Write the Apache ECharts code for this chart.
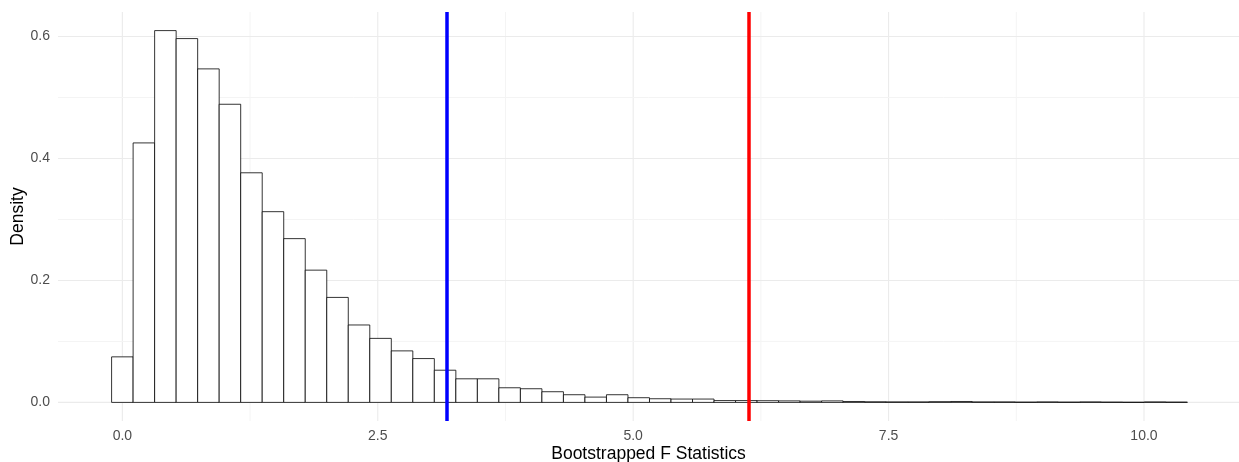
<!DOCTYPE html>
<html>
<head>
<meta charset="utf-8">
<script src="https://cdn.jsdelivr.net/npm/echarts@6/dist/echarts.min.js"></script>
<style>
html,body{margin:0;padding:0;background:#fff;}
#chart{width:1239px;height:462px;}
</style>
</head>
<body>
<div id="chart"></div>
<script>
// Histogram bin centers (Bootstrapped F statistic)
const binCenters = [0.0000, 0.2106, 0.4212, 0.6318, 0.8424, 1.0530, 1.2636, 1.4742, 1.6848, 1.8954,
  2.1060, 2.3166, 2.5272, 2.7378, 2.9484, 3.1590, 3.3696, 3.5802, 3.7908, 4.0014,
  4.2120, 4.4226, 4.6332, 4.8438, 5.0544, 5.2650, 5.4756, 5.6862, 5.8968, 6.1074,
  6.3180, 6.5286, 6.7392, 6.9498, 7.1604, 7.3710, 7.5816, 7.7922, 8.0028, 8.2134,
  8.4240, 8.6346, 8.8452, 9.0558, 9.2664, 9.4770, 9.6876, 9.8982, 10.1088, 10.3194];
const binWidth = 0.2106;
// Densities
const densities = [0.0747, 0.4256, 0.6098, 0.5967, 0.5470, 0.4890, 0.3766, 0.3128, 0.2686, 0.2169,
  0.1722, 0.1270, 0.1050, 0.0845, 0.0719, 0.0528, 0.0387, 0.0387, 0.0240, 0.0224,
  0.0175, 0.0126, 0.0087, 0.0126, 0.0077, 0.0060, 0.0055, 0.0055, 0.0030, 0.0030,
  0.0028, 0.0025, 0.0020, 0.0025, 0.0015, 0.0010, 0.0008, 0.0008, 0.0012, 0.0015,
  0.0008, 0.0008, 0.0005, 0.0008, 0.0005, 0.0008, 0.0005, 0.0003, 0.0008, 0.0005];
// Reference lines
const blueLine = 3.183;
const redLine = 6.128;
// Ticks / grid
const xMajor = [0, 2.5, 5, 7.5, 10];
const xMinor = [1.25, 3.75, 6.25, 8.75];
const yMajor = [0, 0.2, 0.4, 0.6];
const yMinor = [0.1, 0.3, 0.5];

const FONT = '"Liberation Sans", Arial, sans-serif';

const chart = echarts.init(document.getElementById('chart'), null, {renderer: 'canvas'});

function vGrid(params, api) {
  const cs = params.coordSys;
  const x = api.coord([api.value(0), 0])[0];
  const major = api.value(1) === 1;
  return {
    type: 'line',
    shape: {x1: x, y1: cs.y, x2: x, y2: cs.y + cs.height},
    style: {stroke: major ? '#EBEBEB' : '#F4F4F4', lineWidth: major ? 1.1 : 1}
  };
}
function hGrid(params, api) {
  const cs = params.coordSys;
  const y = api.coord([0, api.value(1)])[1];
  const major = api.value(0) === 1;
  return {
    type: 'line',
    shape: {x1: cs.x, y1: y, x2: cs.x + cs.width, y2: y},
    style: {stroke: major ? '#EBEBEB' : '#F4F4F4', lineWidth: major ? 1.1 : 1}
  };
}

const vGridData = xMajor.map(v => [v, 1]).concat(xMinor.map(v => [v, 0]));
const hGridData = yMajor.map(v => [1, v]).concat(yMinor.map(v => [0, v]));

chart.setOption({
  animation: false,
  backgroundColor: '#ffffff',
  grid: {left: 58, right: 0, top: 12, bottom: 41, containLabel: false, outerBoundsMode: 'none'},
  xAxis: {
    type: 'value',
    min: -0.63, max: 10.93,
    name: 'Bootstrapped F Statistics',
    nameLocation: 'middle',
    nameGap: 24,
    nameMoveOverlap: false,
    nameTextStyle: {fontFamily: FONT, fontSize: 17.5, color: '#000'},
    axisLine: {show: false},
    axisTick: {show: false},
    splitLine: {show: false},
    axisLabel: {
      customValues: xMajor,
      margin: 8,
      fontFamily: FONT, fontSize: 14, color: '#4D4D4D',
      formatter: v => v.toFixed(1)
    }
  },
  yAxis: {
    type: 'value',
    min: -0.0305, max: 0.6403,
    name: 'Density',
    nameLocation: 'middle',
    nameGap: 31,
    nameMoveOverlap: false,
    nameTextStyle: {fontFamily: FONT, fontSize: 17.5, color: '#000'},
    axisLine: {show: false},
    axisTick: {show: false},
    splitLine: {show: false},
    axisLabel: {
      customValues: yMajor,
      margin: 8,
      fontFamily: FONT, fontSize: 14, color: '#4D4D4D',
      formatter: v => v.toFixed(1)
    }
  },
  series: [
    {type: 'custom', renderItem: vGrid, data: vGridData, z: 1, silent: true, clip: false},
    {type: 'custom', renderItem: hGrid, data: hGridData, z: 1, silent: true, clip: false},
    {
      type: 'custom',
      z: 2,
      data: binCenters.map((c, i) => [c, densities[i]]),
      renderItem: function (params, api) {
        const c = api.value(0), d = api.value(1);
        const p0 = api.coord([c - binWidth / 2, d]);
        const p1 = api.coord([c + binWidth / 2, 0]);
        return {
          type: 'rect',
          shape: {x: p0[0], y: p0[1], width: p1[0] - p0[0], height: p1[1] - p0[1]},
          style: {fill: '#ffffff', stroke: '#000000', lineWidth: 0.8}
        };
      },
      markLine: {
        silent: true,
        symbol: 'none',
        label: {show: false},
        data: [
          {xAxis: blueLine, lineStyle: {color: '#0000FF', width: 3.5, type: 'solid'}},
          {xAxis: redLine, lineStyle: {color: '#FF0000', width: 3.5, type: 'solid'}}
        ]
      }
    }
  ]
});
</script>
</body>
</html>
